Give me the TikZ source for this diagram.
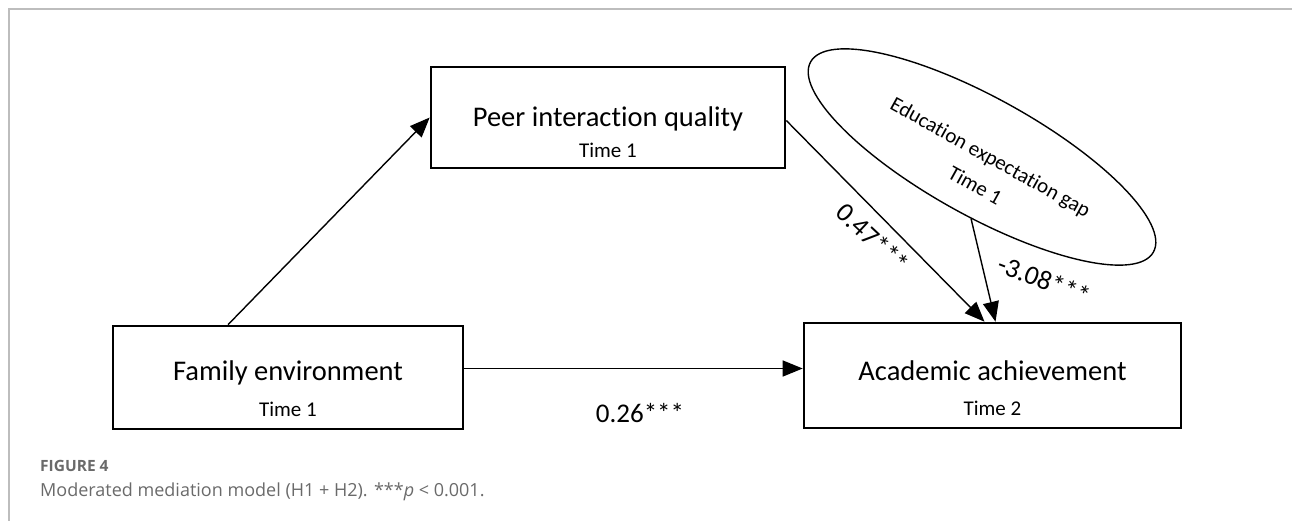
\documentclass[tikz,border=0pt]{standalone}
\usepackage{fontspec}
\setmainfont{Carlito}[Ligatures=NoCommon]
\newfontfamily\capfont{Open Sans}
\usetikzlibrary{arrows.meta,shapes.geometric}
\definecolor{capgray}{HTML}{6A6A6A}
\definecolor{framegray}{HTML}{BDBDBD}
\begin{document}
\begin{tikzpicture}[x=1pt,y=-1pt,
  box/.style={draw, line width=2.6pt, inner sep=0pt},
  maintxt/.style={font=\fontsize{28.5}{32}\selectfont, inner sep=0pt},
  timetxt/.style={font=\fontsize{21}{24}\selectfont, inner sep=0pt},
  arr/.style={line width=1.4pt, -{Triangle[length=20pt,width=16pt]}},
  coef/.style={font=\fontsize{27}{30}\selectfont, inner sep=0pt},
  captxt/.style={font=\capfont\fontsize{18}{21}\selectfont, text=capgray, anchor=west, inner sep=0pt}]
\useasboundingbox (0,0) rectangle (1292,521);
\draw[framegray, line width=1.2pt] (9,521) -- (9,9) -- (1292,9);

% boxes
\node[box, minimum width=354pt, minimum height=101pt] (P) at (608,117.5) {};
\node[box, minimum width=350pt, minimum height=103pt] (F) at (288,377.5) {};
\node[box, minimum width=377pt, minimum height=105pt] (A) at (992.5,375.5) {};
\node[maintxt] (Pm) at ([yshift=-53pt]P.north) {Peer interaction quality};
\node[timetxt] (Pt) at ([yshift=19pt]P.south) {Time 1};
\node[maintxt] (Fm) at ([yshift=-48pt]F.north) {Family environment};
\node[timetxt] (Ft) at ([yshift=21pt]F.south) {Time 1};
\node[maintxt] (Am) at ([yshift=-49pt]A.north) {Academic achievement};
\node[timetxt] (At) at ([yshift=21pt]A.south) {Time 2};

% moderator ellipse
\node[draw, ellipse, line width=1.4pt, rotate=-29, minimum width=392pt, minimum height=118pt,
      inner sep=0pt] (E) at (982,157) {};
\node[rotate=-29, align=center, inner sep=0pt, font=\fontsize{21}{32}\selectfont] (Et) at (983,171)
      {Education expectation gap\\Time 1};

% connectors
\coordinate (f1) at ([yshift=9pt]F.east);
\draw[arr] ([xshift=-60pt]F.north) -- (P.west);
\draw[arr] (f1) -- (f1 -| A.west);
\draw[arr] ([yshift=-3pt]P.east) -- ([xshift=-8pt]A.north);
\draw[arr] (E.-71) -- ([xshift=3pt]A.north);

% coefficients
\node[coef] (c1) at (640,413) {0.26***};
\node[coef, rotate=-43] (c2) at (873,238) {0.47***};
\node[coef, rotate=-21] (c3) at (1044,280) {-3.08***};

% caption
\node[captxt, font=\capfont\fontsize{15.5}{18}\selectfont\bfseries] (cap1) at (40,466) {FIGURE 4};
\node[captxt] (cap2) at (40,492) {Moderated mediation model (H1 + H2). ***\emph{p} < 0.001.};
\end{tikzpicture}
\end{document}
